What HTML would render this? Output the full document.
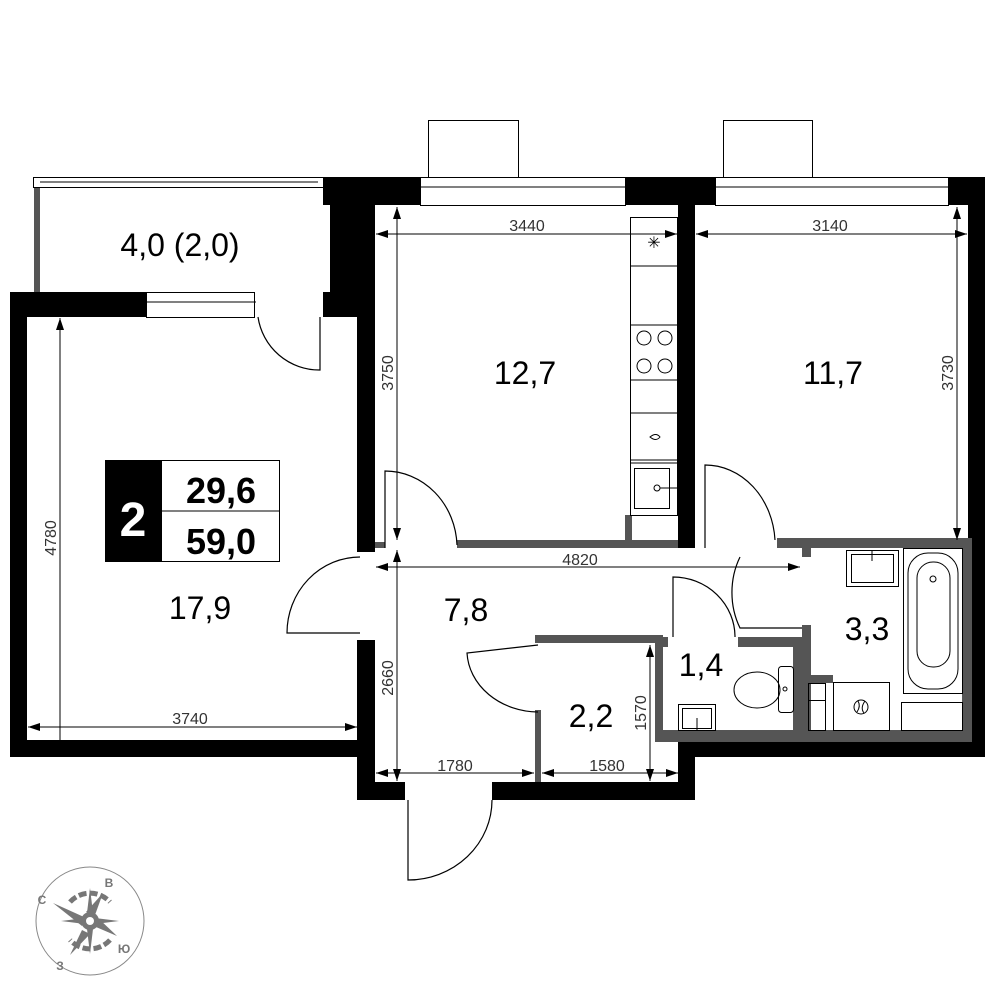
<!DOCTYPE html>
<html><head><meta charset="utf-8"><style>
html,body{margin:0;padding:0;background:#fff;}
svg{display:block;font-family:"Liberation Sans",sans-serif;}
</style></head><body>
<svg width="1000" height="1000" viewBox="0 0 1000 1000" xmlns="http://www.w3.org/2000/svg">
<defs>
<marker id="a" markerWidth="12" markerHeight="8" refX="12" refY="4" orient="auto-start-reverse" markerUnits="userSpaceOnUse"><path d="M0,0 L12,4 L0,8 Z" fill="#000"/></marker>
</defs>
<rect x="428.5" y="120.5" width="90" height="57" fill="none" stroke="#000" stroke-width="1"/>
<rect x="723.5" y="120.5" width="89" height="57" fill="none" stroke="#000" stroke-width="1"/>
<g fill="#fff" stroke="#000" stroke-width="1">
<rect x="33.5" y="177.5" width="290" height="10"/>
<line x1="40" y1="182" x2="318" y2="182"/>
<rect x="420.5" y="177.5" width="205" height="28"/>
<line x1="420" y1="187" x2="625" y2="187"/>
<rect x="715.5" y="177.5" width="233" height="28"/>
<line x1="715" y1="187" x2="948" y2="187"/>
<rect x="146.5" y="292.5" width="108" height="25"/>
<line x1="146" y1="302" x2="256" y2="302"/>
</g>
<rect x="34" y="188" width="6" height="105" fill="#555"/>
<g fill="#000">
<rect x="323" y="177" width="97" height="28"/>
<rect x="330" y="177" width="45" height="115"/>
<rect x="323" y="292" width="52" height="25"/>
<rect x="357" y="292" width="18" height="260"/>
<rect x="10" y="292" width="136" height="25"/>
<rect x="10" y="292" width="17" height="465"/>
<rect x="10" y="740" width="365" height="17"/>
<rect x="357" y="640" width="18" height="160"/>
<rect x="357" y="782" width="48" height="18"/>
<rect x="492" y="782" width="203" height="18"/>
<rect x="678" y="742" width="17" height="58"/>
<rect x="678" y="742" width="307" height="15"/>
<rect x="625" y="177" width="90" height="28"/>
<rect x="678" y="177" width="17" height="371"/>
<rect x="948" y="177" width="37" height="28"/>
<rect x="968" y="177" width="17" height="580"/>
</g>
<g fill="#555">
<rect x="457" y="540" width="221" height="8"/>
<rect x="625" y="515" width="7" height="28"/>
<rect x="777" y="538" width="195" height="10"/>
<rect x="802" y="538" width="9" height="19"/>
<rect x="802" y="625" width="9" height="110"/>
<rect x="655" y="637" width="13" height="10"/>
<rect x="738" y="637" width="73" height="10"/>
<rect x="655" y="637" width="8" height="105"/>
<rect x="655" y="730" width="317" height="12"/>
<rect x="793" y="647" width="18" height="85"/>
<rect x="793" y="675" width="40" height="8"/>
<rect x="535" y="635" width="128" height="8"/>
<rect x="535" y="710" width="6" height="72"/>
<rect x="962" y="538" width="10" height="200"/>
<rect x="375" y="542" width="10" height="6"/>
</g>
<g fill="none" stroke="#000" stroke-width="1.2">
<path d="M320,317 L320,370 A62,62 0 0 1 258,317"/>
<path d="M385,548 L385,471 A72,77 0 0 1 457,545"/>
<path d="M705,548 L705,465 A70,80 0 0 1 775,540"/>
<path d="M802,628 L740,628 A62,72 0 0 1 740,557"/>
<path d="M673,637 L673,577 A62,60 0 0 1 735,637"/>
<path d="M538,645 L467,653 A72,62 0 0 0 538,712"/>
<path d="M360,633 L287,633 A73,76 0 0 1 360,557"/>
<path d="M408,800 L408,880 A84,80 0 0 0 492,800"/>
</g>
<g fill="none" stroke="#000" stroke-width="1">
<rect x="630.5" y="217.5" width="47" height="298"/>
<line x1="630" y1="266" x2="678" y2="266"/>
<line x1="630" y1="325" x2="678" y2="325"/>
<line x1="630" y1="380" x2="678" y2="380"/>
<line x1="630" y1="413" x2="678" y2="413"/>
<line x1="630" y1="460" x2="678" y2="460"/>
<line x1="630" y1="463" x2="678" y2="463"/>
<circle cx="644" cy="338" r="7"/><circle cx="665" cy="338" r="7"/>
<circle cx="644" cy="366" r="7"/><circle cx="665" cy="366" r="7"/>
<rect x="634.5" y="468.5" width="35" height="40"/>
<circle cx="657" cy="488" r="3"/>
<line x1="660" y1="488" x2="678" y2="488"/>
<path d="M650,437 Q656,432 660,437 Q656,442 650,437Z"/>
</g>
<text x="654" y="248" font-size="16" text-anchor="middle">✳</text>
<g fill="none" stroke="#000" stroke-width="1">
<rect x="846.5" y="550.5" width="52" height="36"/>
<rect x="851.5" y="554.5" width="42" height="28"/>
<line x1="872" y1="550" x2="872" y2="561"/>
<rect x="903.5" y="548.5" width="59" height="145"/>
<rect x="908" y="553" width="50" height="136" rx="20"/>
<rect x="917" y="562" width="33" height="105" rx="16"/>
<circle cx="933" cy="579" r="3"/>
<rect x="901.5" y="702.5" width="61" height="28"/>
<rect x="833.5" y="682.5" width="56" height="48"/>
<circle cx="861" cy="707" r="7"/>
<path d="M857,712 Q861,706 858,701 M864,713 Q860,708 865,701"/>
<rect x="808.5" y="683.5" width="17" height="17"/>
<rect x="808.5" y="700.5" width="17" height="30"/>
<rect x="778.5" y="666.5" width="15" height="46" rx="3"/>
<ellipse cx="757" cy="690" rx="23" ry="18"/>
<circle cx="785" cy="689" r="2"/>
<rect x="678.5" y="704.5" width="37" height="26"/>
<rect x="682.5" y="708.5" width="29" height="20"/>
<line x1="697" y1="718" x2="697" y2="730"/>
</g>
<g stroke="#000" stroke-width="1" fill="none">
<line x1="376" y1="234" x2="677" y2="234" marker-start="url(#a)" marker-end="url(#a)"/>
<line x1="696" y1="234" x2="967" y2="234" marker-start="url(#a)" marker-end="url(#a)"/>
<line x1="397" y1="207" x2="397" y2="540" marker-start="url(#a)" marker-end="url(#a)"/>
<line x1="957" y1="207" x2="957" y2="540" marker-start="url(#a)" marker-end="url(#a)"/>
<line x1="60" y1="318" x2="60" y2="740" marker-start="url(#a)"/>
<line x1="28" y1="727" x2="357" y2="727" marker-start="url(#a)" marker-end="url(#a)"/>
<line x1="376" y1="567" x2="800" y2="567" marker-start="url(#a)" marker-end="url(#a)"/>
<line x1="397" y1="550" x2="397" y2="781" marker-start="url(#a)" marker-end="url(#a)"/>
<line x1="376" y1="773" x2="534" y2="773" marker-start="url(#a)" marker-end="url(#a)"/>
<line x1="542" y1="773" x2="678" y2="773" marker-start="url(#a)" marker-end="url(#a)"/>
<line x1="650" y1="645" x2="650" y2="781" marker-start="url(#a)" marker-end="url(#a)"/>
</g>
<g font-size="16" fill="#333" text-anchor="middle">
<text x="527" y="231">3440</text>
<text x="830" y="231">3140</text>
<text x="190" y="724">3740</text>
<text x="580" y="565">4820</text>
<text x="455" y="771">1780</text>
<text x="607" y="771">1580</text>
<text transform="translate(393,373) rotate(-90)">3750</text>
<text transform="translate(953,373) rotate(-90)">3730</text>
<text transform="translate(56,538) rotate(-90)">4780</text>
<text transform="translate(393,678) rotate(-90)">2660</text>
<text transform="translate(646,713) rotate(-90)">1570</text>
</g>
<g font-size="32" fill="#000" text-anchor="middle">
<text x="180" y="256">4,0 (2,0)</text>
<text x="525" y="384">12,7</text>
<text x="833" y="384">11,7</text>
<text x="200" y="619">17,9</text>
<text x="466" y="621">7,8</text>
<text x="591" y="727">2,2</text>
<text x="701" y="676">1,4</text>
<text x="867" y="640">3,3</text>
</g>
<rect x="105" y="460" width="56" height="102" fill="#000"/>
<rect x="161.5" y="460.5" width="118" height="101" fill="#fff" stroke="#000" stroke-width="1"/>
<line x1="161" y1="511" x2="280" y2="511" stroke="#000" stroke-width="1"/>
<text x="133" y="536" font-size="48" font-weight="bold" fill="#fff" text-anchor="middle">2</text>
<text x="221" y="503" font-size="36" font-weight="bold" text-anchor="middle">29,6</text>
<text x="221" y="554" font-size="36" font-weight="bold" text-anchor="middle">59,0</text>
<circle cx="90" cy="921" r="54" fill="none" stroke="#888" stroke-width="1"/>
<g fill="#777" stroke="none">
<path d="M70,902 A27,27 0 0 1 110,902" fill="none" stroke="#777" stroke-width="5" stroke-dasharray="8 3"/>
<path d="M110,940 A27,27 0 0 1 70,940" fill="none" stroke="#777" stroke-width="5" stroke-dasharray="8 3"/>
<polygon points="103,893 95,915 86,912"/>
<polygon points="53,903 84,917 82,926"/>
<polygon points="117,936 96,927 98,918"/>
<polygon points="70,955 82,930 90,934"/>
<polygon points="90,888 93,913 87,913"/>
<polygon points="61,921 85,918 85,924"/>
<polygon points="119,921 95,918 95,924"/>
<polygon points="90,954 93,929 87,929"/>
<circle cx="90" cy="921" r="9"/>
<circle cx="90" cy="921" r="4" fill="#fff"/>
</g>
<g font-size="12" font-weight="bold" fill="#777" text-anchor="middle">
<text x="42" y="904">С</text>
<text x="109" y="887">В</text>
<text x="124" y="953">Ю</text>
<text x="60" y="970">З</text>
</g>
</svg>
</body></html>
